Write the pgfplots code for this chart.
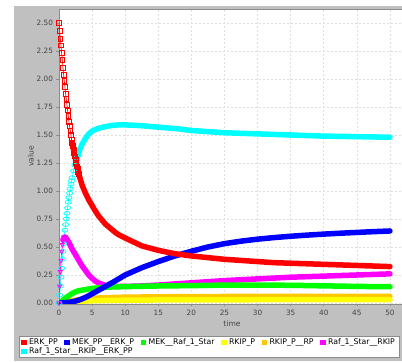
\documentclass[border=0pt]{standalone}
\usepackage{pgfplots}
\usepackage{pgfplotstable}
\pgfplotsset{compat=1.18}
\usepackage{fontspec}
\setmainfont{DejaVu Sans}

\definecolor{cRed}{RGB}{255,0,0}
\definecolor{cBlue}{RGB}{0,0,255}
\definecolor{cGreen}{RGB}{0,255,0}
\definecolor{cYellow}{RGB}{255,255,0}
\definecolor{cOrange}{RGB}{255,200,0}
\definecolor{cMagenta}{RGB}{255,0,255}
\definecolor{cCyan}{RGB}{0,255,255}
\definecolor{panel}{RGB}{192,192,192}
\definecolor{frame}{RGB}{140,140,140}
\definecolor{gridc}{RGB}{222,222,222}
\definecolor{labelc}{RGB}{68,68,68}

% ERK_PP
\pgfplotstableread{
t v
0.0 2.50
0.1 2.43
0.2 2.36
0.3 2.30
0.4 2.23
0.5 2.17
0.6 2.10
0.7 2.04
0.8 1.98
0.9 1.93
1.0 1.87
1.1 1.82
1.2 1.77
1.3 1.72
1.4 1.67
1.5 1.62
1.6 1.58
1.7 1.54
1.8 1.50
1.9 1.46
2.0 1.43
2.1 1.40
2.2 1.37
2.3 1.34
2.4 1.31
2.5 1.28
2.6 1.25
2.7 1.22
2.8 1.20
2.9 1.17
3.0 1.15
3.5 1.05
4.0 0.98
4.5 0.92
5.0 0.87
5.5 0.82
6.0 0.775
6.5 0.74
7.0 0.705
7.5 0.68
8.0 0.655
8.5 0.63
9.0 0.61
9.5 0.595
10 0.58
12.5 0.51
15 0.47
17.5 0.44
20 0.42
22.5 0.405
25 0.39
27.5 0.38
30 0.37
32.5 0.36
35 0.355
37.5 0.35
40 0.345
42.5 0.34
45 0.335
47.5 0.33
50 0.325
}\tabERK

% MEK_PP__ERK_P
\pgfplotstableread{
t v
0 0
0.5 0.001
1 0.003
1.5 0.006
2 0.011
2.5 0.017
3 0.026
3.5 0.037
4 0.05
4.5 0.065
5 0.082
6 0.115
7 0.147
8 0.18
9 0.215
10 0.25
12.5 0.315
15 0.37
17.5 0.42
20 0.462
22.5 0.50
25 0.53
27.5 0.552
30 0.57
32.5 0.584
35 0.596
37.5 0.606
40 0.615
42.5 0.623
45 0.63
47.5 0.637
50 0.643
}\tabMEKERK

% MEK__Raf_1_Star
\pgfplotstableread{
t v
0 0
0.5 0.02
1 0.045
1.5 0.066
2 0.085
2.5 0.10
3 0.11
4 0.12
5 0.13
6 0.135
7 0.14
8 0.143
10 0.146
12.5 0.149
15 0.152
20 0.155
25 0.16
30 0.16
35 0.158
40 0.153
45 0.148
50 0.145
}\tabMEKRaf

% RKIP_P
\pgfplotstableread{
t v
0 0
1 0.005
2 0.01
3 0.015
5 0.02
7.5 0.023
10 0.025
15 0.027
20 0.028
30 0.029
40 0.03
50 0.03
}\tabRKIPP

% RKIP_P__RP
\pgfplotstableread{
t v
0 0
1 0.01
2 0.02
3 0.03
4 0.037
5 0.042
7.5 0.048
10 0.052
15 0.055
20 0.057
30 0.059
40 0.06
50 0.06
}\tabRKIPPRP

% Raf_1_Star__RKIP
\pgfplotstableread{
t v
0.0 0.0
0.1 0.15
0.2 0.28
0.3 0.38
0.4 0.46
0.5 0.52
0.6 0.56
0.7 0.58
0.8 0.59
0.9 0.59
1.0 0.585
1.25 0.565
1.5 0.54
1.75 0.51
2.0 0.48
2.5 0.43
3.0 0.38
3.5 0.33
4.0 0.29
4.5 0.25
5.0 0.22
5.5 0.195
6.0 0.178
7.0 0.158
8.0 0.15
9.0 0.147
10 0.148
12.5 0.152
15 0.16
17.5 0.17
20 0.18
22.5 0.19
25 0.20
30 0.215
35 0.23
40 0.24
45 0.25
50 0.26
}\tabRafRKIP

% Raf_1_Star__RKIP__ERK_PP
\pgfplotstableread{
t v
0.0 0.0
0.1 0.07
0.2 0.15
0.3 0.23
0.4 0.31
0.5 0.39
0.6 0.46
0.7 0.53
0.8 0.59
0.9 0.65
1.0 0.70
1.1 0.75
1.2 0.80
1.3 0.85
1.4 0.90
1.5 0.94
1.6 0.98
1.7 1.02
1.8 1.06
1.9 1.09
2.0 1.12
2.2 1.18
2.4 1.23
2.6 1.27
2.8 1.31
3.0 1.35
3.5 1.42
4.0 1.47
4.5 1.51
5 1.535
6 1.56
7 1.575
8 1.585
9 1.59
10 1.59
12 1.585
14 1.575
16 1.565
18 1.555
20 1.54
25 1.52
30 1.51
35 1.50
40 1.49
45 1.485
50 1.48
}\tabRafRKIPERK

\begin{document}
\begin{tikzpicture}[x=1pt,y=1pt]
\fill[white] (0,0) rectangle (402,363);
\fill[panel] (14,2) rectangle (420,357);
\begin{axis}[
  at={(59pt,59pt)}, anchor=south west,
  scale only axis, width=346pt, height=295pt,
  xmin=0, xmax=52.27, ymin=-0.009, ymax=2.625,
  axis background/.style={fill=white},
  axis line style={frame, line width=0.8pt},
  xtick={0,5,10,15,20,25,30,35,40,45,50},
  ytick={0,0.25,0.5,0.75,1,1.25,1.5,1.75,2,2.25,2.5},
  tick pos=left, tick align=outside, major tick length=2.5pt,
  tick style={frame, line width=0.6pt},
  grid=major,
  major grid style={gridc, line width=0.6pt, dash pattern=on 2pt off 2pt},
  /pgf/number format/assume math mode=true,
  tick label style={font=\fontsize{7.3}{8}\selectfont, text=labelc},
  yticklabel style={/pgf/number format/fixed, /pgf/number format/fixed zerofill, /pgf/number format/precision=2},
  xticklabel style={/pgf/number format/fixed, /pgf/number format/precision=0},
  xlabel={time}, ylabel={value},
  label style={font=\fontsize{7.6}{9}\selectfont, text=labelc},
  xlabel style={at={(axis description cs:0.5,-0.066)}, anchor=center},
  ylabel style={at={(axis description cs:-0.0816,0.5)}, anchor=center},
  legend columns=6, reverse legend,
  legend image code/.code={\fill[#1, draw=none, line width=0pt] (0pt,-2.6pt) rectangle (5.2pt,2.6pt);},
  legend style={at={(axis description cs:-0.1156,-0.1085)}, anchor=north west,
    draw=frame, line width=0.6pt, fill=white,
    font=\fontsize{7.8}{9}\selectfont,
    inner xsep=2pt, inner ysep=1.3pt, row sep=0pt,
    nodes={inner xsep=2.5pt, inner ysep=0.8pt},
    /tikz/every even column/.append style={column sep=4.2pt}},
  legend cell align=left,
  band/.style={line width=5.5pt, line join=round, line cap=round, no marks},
  pts/.style={forget plot, line width=0.7pt, mark size=2.4pt, mark options={solid, line width=0.7pt}},
]
% drawn last series first, so ERK_PP lies on top
\addplot[color=cCyan, band, restrict x to domain=2.6:50] table {\tabRafRKIPERK};
\addlegendentry{\makebox[0pt][l]{Raf\_1\_Star\_\_RKIP\_\_ERK\_PP}}
\addplot[color=cCyan, pts, mark=o, mark options={xscale=1.3, yscale=0.8}, restrict x to domain=0:3] table {\tabRafRKIPERK};

\addplot[color=cMagenta, band, restrict x to domain=0.6:50] table {\tabRafRKIP};
\addlegendentry{Raf\_1\_Star\_\_RKIP}
\addplot[color=cMagenta, pts, mark=triangle, mark options={rotate=180}, restrict x to domain=0:1] table {\tabRafRKIP};

\addplot[color=cOrange, band] table {\tabRKIPPRP};
\addlegendentry{RKIP\_P\_\_RP}
\addplot[color=cYellow, band] table {\tabRKIPP};
\addlegendentry{RKIP\_P}
\addplot[color=cGreen, band] table {\tabMEKRaf};
\addlegendentry{MEK\_\_Raf\_1\_Star}
\addplot[color=cBlue, band] table {\tabMEKERK};
\addlegendentry{MEK\_PP\_\_ERK\_P}

\addplot[color=cRed, band, restrict x to domain=2:50] table {\tabERK};
\addlegendentry{ERK\_PP}
\addplot[color=cRed, pts, mark=square, restrict x to domain=0:3] table {\tabERK};
\end{axis}
\pgfresetboundingbox
\useasboundingbox (0,0) rectangle (402,363);
\end{tikzpicture}
\end{document}
